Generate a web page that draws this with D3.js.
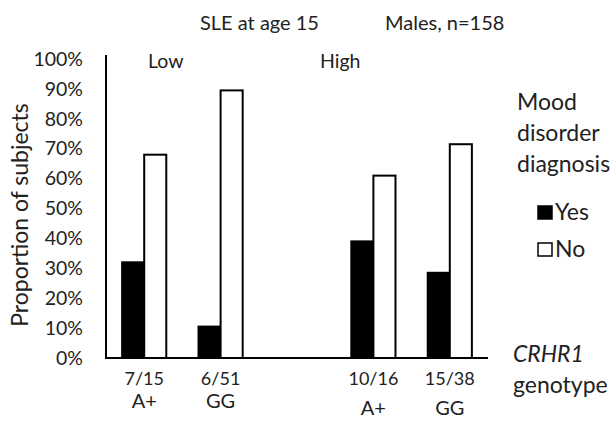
<!DOCTYPE html>
<html lang="en">
<head>
<script src="https://d3js.org/d3.v7.min.js"></script>
<style>
  body { margin: 0; background: #fff; }
  text { font-family: Lato, "Noto Sans", sans-serif; fill: #222; }
</style>
</head>
<body>
<svg id="chart" width="612" height="421"></svg>
<script>
// data
let categories = ["7/15", "6/51", "", "10/16", "15/38"]
let genotypes = ["A+", "GG", "", "A+", "GG"]
let groups = ["Low", "Low", "", "High", "High"]
let yesValues = [0.32, 0.105, null, 0.39, 0.285]
let noValues = [0.68, 0.895, null, 0.61, 0.715]
let series = ["Yes", "No"]
let yTicks = [0, 0.1, 0.2, 0.3, 0.4, 0.5, 0.6, 0.7, 0.8, 0.9, 1]

let svg = d3.select("#chart")
let x0 = d3.scaleBand().domain(categories).range([106, 488])
let x1 = d3.scaleBand().domain(series).range([0, x0.bandwidth()]).paddingOuter(0.73)
let y = d3.scaleLinear().domain([0, 1]).range([358, 59])

// y axis
let yAxis = svg.append("g").attr("transform", "translate(106,0)")
  .call(d3.axisLeft(y).tickValues(yTicks).tickFormat(d3.format(".0%")).tickSize(0).tickPadding(23))
yAxis.select(".domain").attr("stroke", "#000").attr("stroke-width", 2).attr("d", "M0," + (y(1) - 4) + "V" + y(0))
yAxis.selectAll("text").style("font-size", "19.5px").attr("fill", "#222").style("font-family", "Lato")

// baseline
svg.append("line").attr("x1", 105).attr("x2", 488).attr("y1", y(0)).attr("y2", y(0))
  .attr("stroke", "#000").attr("stroke-width", 2)

// bars
let rows = categories.map((c, i) => ({cat: c, Yes: yesValues[i], No: noValues[i]})).filter(d => d.Yes !== null)
let g = svg.selectAll(".grp").data(rows).enter().append("g").attr("transform", d => `translate(${x0(d.cat)},0)`)
g.selectAll("rect").data(d => series.map(s => ({key: s, value: d[s]}))).enter().append("rect")
  .attr("x", d => x1(d.key)).attr("width", x1.bandwidth())
  .attr("y", d => y(d.value)).attr("height", d => y(0) - y(d.value))
  .attr("fill", d => d.key === "Yes" ? "#000" : "#fff").attr("stroke", "#000").attr("stroke-width", 2)

// category labels
svg.selectAll(".frac").data(categories.filter(c => c)).enter().append("text")
  .attr("x", d => x0(d) + x0.bandwidth() / 2).attr("y", 385).attr("text-anchor", "middle")
  .style("font-size", "18px").text(d => d)
svg.selectAll(".geno").data(categories.map((c, i) => ({c, g: genotypes[i], grp: groups[i]})).filter(d => d.c)).enter().append("text")
  .attr("x", d => x0(d.c) + x0.bandwidth() / 2).attr("y", d => d.grp === "High" ? 415 : 408).attr("text-anchor", "middle")
  .style("font-size", "20px").text(d => d.g)

// group labels and titles
svg.append("text").attr("x", 148).attr("y", 68).style("font-size", "19.5px").text("Low")
svg.append("text").attr("x", 320).attr("y", 68).style("font-size", "19.5px").text("High")
svg.append("text").attr("x", 200).attr("y", 30).style("font-size", "20px").text("SLE at age 15")
svg.append("text").attr("x", 385).attr("y", 30).style("font-size", "20px").text("Males, n=158")

// y axis title
svg.append("text").attr("transform", "translate(28,215) rotate(-90)").attr("text-anchor", "middle")
  .style("font-size", "23px").text("Proportion of subjects")

// legend
let legendTitle = ["Mood", "disorder", "diagnosis"]
svg.selectAll(".lt").data(legendTitle).enter().append("text")
  .attr("x", 517).attr("y", (d, i) => 110 + i * 31).style("font-size", "23px").text(d => d)
let leg = svg.selectAll(".leg").data(series).enter().append("g")
  .attr("transform", (d, i) => `translate(538,${206 + i * 37})`)
leg.append("rect").attr("width", 14).attr("height", 13).attr("fill", d => d === "Yes" ? "#000" : "#fff")
  .attr("stroke", "#000").attr("stroke-width", 1.5)
leg.append("text").attr("x", 17).attr("y", 13.5).style("font-size", "23px").text(d => d)

svg.append("text").attr("x", 513).attr("y", 362).style("font-size", "23px").style("font-style", "italic").text("CRHR1")
svg.append("text").attr("x", 513).attr("y", 393).style("font-size", "23px").text("genotype")
</script>
</body>
</html>
